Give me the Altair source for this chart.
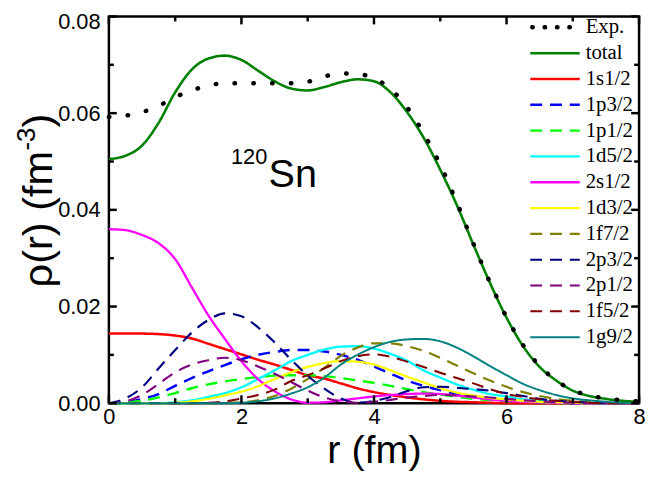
import altair as alt
import pandas as pd

# ---------------- data ----------------
r_grid = [0.0, 0.25, 0.5, 0.75, 1.0, 1.25, 1.5, 1.75, 2.0, 2.25, 2.5, 2.75, 3.0, 3.25, 3.5, 3.75,
          4.0, 4.25, 4.5, 4.75, 5.0, 5.25, 5.5, 5.75, 6.0, 6.25, 6.5, 6.75, 7.0, 7.25, 7.5, 7.75, 8.0]

exp_rho = [0.0592, 0.0595, 0.0602, 0.0615, 0.0633, 0.0647, 0.0657, 0.0662, 0.0662, 0.0662, 0.0662,
           0.0662, 0.0665, 0.0676, 0.0682, 0.0681, 0.0672, 0.0650, 0.0612, 0.0558, 0.0493, 0.0415,
           0.0330, 0.0250, 0.0178, 0.0120, 0.0077, 0.0047, 0.0027, 0.0016, 0.0010, 0.0006, 0.0004]
total = [0.0505, 0.0512, 0.0533, 0.0580, 0.0643, 0.0690, 0.0713, 0.0719, 0.0710, 0.0688, 0.0666,
         0.0651, 0.0647, 0.0654, 0.0664, 0.0670, 0.0666, 0.0643, 0.0602, 0.0549, 0.0483, 0.0410,
         0.0328, 0.0249, 0.0177, 0.0118, 0.0075, 0.0047, 0.0026, 0.0015, 0.0009, 0.0005, 0.0003]
s1_12 = [0.0144, 0.0144, 0.0144, 0.0143, 0.0140, 0.0134, 0.0123, 0.0112, 0.0101, 0.0090, 0.0080,
         0.0069, 0.0058, 0.0051, 0.0041, 0.0031, 0.0023, 0.0017, 0.0012, 0.0008, 0.0005, 0.0003,
         0.0002, 0.0001, 0, 0, 0, 0, 0, 0, 0, 0, 0]
p1_32 = [0, 0.0002, 0.0009, 0.0019, 0.0036, 0.0052, 0.0066, 0.0079, 0.0091, 0.0100, 0.0106,
         0.0110, 0.0110, 0.0107, 0.0100, 0.0090, 0.0076, 0.0061, 0.0047, 0.0036, 0.0027, 0.0019,
         0.0013, 0.0009, 0.0006, 0.0004, 0.0002, 0.0001, 0, 0, 0, 0, 0]
p1_12 = [0, 0.0001, 0.0005, 0.0012, 0.0021, 0.0031, 0.0039, 0.0045, 0.0050, 0.0054, 0.0057,
         0.0058, 0.0058, 0.0056, 0.0052, 0.0047, 0.0042, 0.0036, 0.0029, 0.0023, 0.0018, 0.0013,
         0.0009, 0.0007, 0.0004, 0.0003, 0.0002, 0.0001, 0, 0, 0, 0, 0]
d1_52 = [0, 0, 0, 0, 0.0002, 0.0006, 0.0013, 0.0021, 0.0033, 0.0050, 0.0068, 0.0087, 0.0100,
         0.0111, 0.0117, 0.0118, 0.0113, 0.0102, 0.0088, 0.0068, 0.0053, 0.0039, 0.0028, 0.0019,
         0.0014, 0.0008, 0.0005, 0.0003, 0.0001, 0, 0, 0, 0]
s2_12 = [0.0360, 0.0358, 0.0348, 0.0331, 0.0298, 0.0240, 0.0182, 0.0133, 0.0087, 0.0050, 0.0025,
         0.0008, 0.0001, 0.0002, 0.0006, 0.0010, 0.0014, 0.0017, 0.0019, 0.0020, 0.0019, 0.0016,
         0.0012, 0.0008, 0.0005, 0.0003, 0.0002, 0.0001, 0, 0, 0, 0, 0]
d1_32 = [0, 0, 0, 0, 0.0001, 0.0004, 0.0009, 0.0016, 0.0024, 0.0035, 0.0050, 0.0064, 0.0075,
         0.0083, 0.0087, 0.0086, 0.0080, 0.0068, 0.0055, 0.0043, 0.0031, 0.0022, 0.0016, 0.0011,
         0.0008, 0.0005, 0.0003, 0.0002, 0.0001, 0, 0, 0, 0]
f1_72 = [0, 0, 0, 0, 0, 0, 0, 0.0001, 0.0002, 0.0006, 0.0015, 0.0030, 0.0050, 0.0073, 0.0098,
         0.0115, 0.0124, 0.0124, 0.0118, 0.0108, 0.0094, 0.0078, 0.0062, 0.0047, 0.0034, 0.0023,
         0.0015, 0.0009, 0.0005, 0.0003, 0.0001, 0, 0]
p2_32 = [0, 0.0010, 0.0033, 0.0072, 0.0110, 0.0146, 0.0172, 0.0186, 0.0180, 0.0157, 0.0126,
         0.0090, 0.0057, 0.0030, 0.0010, 0.0001, 0.0005, 0.0013, 0.0025, 0.0033, 0.0034, 0.0032,
         0.0029, 0.0026, 0.0021, 0.0015, 0.0009, 0.0005, 0.0003, 0.0001, 0, 0, 0]
p2_12 = [0, 0.0004, 0.0017, 0.0040, 0.0064, 0.0080, 0.0089, 0.0094, 0.0089, 0.0076, 0.0061,
         0.0044, 0.0026, 0.0012, 0.0004, 0.0001, 0.0003, 0.0007, 0.0012, 0.0015, 0.0017, 0.0016,
         0.0014, 0.0012, 0.0009, 0.0006, 0.0004, 0.0002, 0.0001, 0, 0, 0, 0]
f1_52 = [0, 0, 0, 0, 0, 0, 0.0001, 0.0004, 0.0010, 0.0017, 0.0028, 0.0046, 0.0058, 0.0072,
         0.0087, 0.0097, 0.0101, 0.0096, 0.0086, 0.0075, 0.0063, 0.0052, 0.0041, 0.0029, 0.0019,
         0.0013, 0.0008, 0.0005, 0.0003, 0.0001, 0, 0, 0]
g1_92 = [0, 0, 0, 0, 0, 0, 0, 0, 0.0001, 0.0004, 0.0010, 0.0020, 0.0033, 0.0053, 0.0080, 0.0100,
         0.0116, 0.0127, 0.0132, 0.0133, 0.0128, 0.0115, 0.0097, 0.0077, 0.0058, 0.0040, 0.0027,
         0.0017, 0.0010, 0.0006, 0.0003, 0.0001, 0]

series_names = ["Exp.", "total", "1s1/2", "1p3/2", "1p1/2", "1d5/2", "2s1/2", "1d3/2",
                "1f7/2", "2p3/2", "2p1/2", "1f5/2", "1g9/2"]
series_values = [exp_rho, total, s1_12, p1_32, p1_12, d1_52, s2_12, d1_32,
                 f1_72, p2_32, p2_12, f1_52, g1_92]
series_colors = ["#000000", "#008000", "#FF0000", "#0000FF", "#00FF00", "#00FFFF", "#FF00FF",
                 "#FFFF00", "#808000", "#000080", "#800080", "#800000", "#008080"]
series_dashed = [False, False, False, True, True, False, False, False, True, True, True, True, False]

x_major = [0, 2, 4, 6, 8]
x_minor = [1, 3, 5, 7]
y_major = [0.0, 0.02, 0.04, 0.06, 0.08]
y_minor = [0.01, 0.03, 0.05, 0.07]

annot_text = ["120", "Sn"]
annot_r = [2.39, 2.41]
annot_rho = [0.0495, 0.0448]

ytitle_parts = ["ρ(r) (fm", "-3", ")"]

# ---------------- layout / style ----------------
W, H = 536, 391
SANS = "Liberation Sans"
SERIF = "Liberation Serif"
DASH = [12, 8]
MAJ, MIN = 8, 5
TW = 2.5

rows = []
for name, vals in zip(series_names, series_values):
    for rv, v in zip(r_grid, vals):
        rows.append({"r": rv, "rho": v, "series": name})
df = pd.DataFrame(rows)
df_exp = df[df.series == "Exp."]
df_lines = df[df.series != "Exp."]

xs = alt.Scale(domain=[0, 8], nice=False, zero=False)
ys = alt.Scale(domain=[0, 0.08], nice=False, zero=False)

line_names = series_names[1:]
color_scale = alt.Scale(domain=line_names, range=series_colors[1:])
dash_scale = alt.Scale(domain=line_names,
                       range=[DASH if d else [1, 0] for d in series_dashed[1:]])
width_scale = alt.Scale(domain=line_names, range=[2.6] + [2.0] * (len(line_names) - 1))

x_axis_main = alt.Axis(values=x_major, format="d", tickSize=0, domain=False, grid=False,
                       labelFont=SANS, labelFontSize=22, labelPadding=4, labelColor="black",
                       labelFlush=False, labelOverlap=False,
                       title="r (fm)", titleFont=SANS, titleFontSize=40, titleFontWeight="normal",
                       titleColor="black", titlePadding=3)
y_axis_main = alt.Axis(values=y_major, format=".2f", tickSize=0, domain=False, grid=False,
                       labelFont=SANS, labelFontSize=22, labelPadding=9, labelColor="black",
                       labelOverlap=False, title=None,
                       labelOffset={"condition": {"test": "datum.value >= 0.079", "value": 5},
                                    "value": 0})

lines = alt.Chart(df_lines).mark_line(interpolate="monotone").encode(
    x=alt.X("r:Q", scale=xs, axis=x_axis_main),
    y=alt.Y("rho:Q", scale=ys, axis=y_axis_main),
    color=alt.Color("series:N", scale=color_scale, legend=None),
    strokeDash=alt.StrokeDash("series:N", scale=dash_scale, legend=None),
    strokeWidth=alt.StrokeWidth("series:N", scale=width_scale, legend=None),
)

exp_line = alt.Chart(df_exp).mark_line(
    interpolate="monotone", color="black", strokeWidth=4.5, strokeDash=[0.5, 18.5],
    strokeCap="round").encode(
    x=alt.X("r:Q", scale=xs, axis=None),
    y=alt.Y("rho:Q", scale=ys, axis=None),
)


# inward ticks on all four sides (positions from the scales)
def xticks(vals, y1, y2):
    return alt.Chart(pd.DataFrame({"v": vals})).mark_rule(color="black", strokeWidth=TW).encode(
        x=alt.X("v:Q", scale=xs, axis=None), y=alt.value(y1), y2=alt.value(y2))


def yticks(vals, x1, x2):
    return alt.Chart(pd.DataFrame({"v": vals})).mark_rule(color="black", strokeWidth=TW).encode(
        y=alt.Y("v:Q", scale=ys, axis=None), x=alt.value(x1), x2=alt.value(x2))


ticks = [
    xticks(x_major, H, H - MAJ), xticks(x_minor, H, H - MIN),
    xticks(x_major, 0, MAJ), xticks(x_minor, 0, MIN),
    yticks(y_major, 0, MAJ), yticks(y_minor, 0, MIN),
    yticks(y_major, W, W - MAJ), yticks(y_minor, W, W - MIN),
]

# annotation 120Sn
df_annot = pd.DataFrame({"t": annot_text, "r": annot_r, "rho": annot_rho})
sup = alt.Chart(df_annot[df_annot.t == "120"]).mark_text(
    font=SANS, fontSize=22, align="right", baseline="alphabetic", color="black").encode(
    x=alt.X("r:Q", scale=xs, axis=None), y=alt.Y("rho:Q", scale=ys, axis=None), text="t:N")
main_t = alt.Chart(df_annot[df_annot.t == "Sn"]).mark_text(
    font=SANS, fontSize=40, align="left", baseline="alphabetic", color="black").encode(
    x=alt.X("r:Q", scale=xs, axis=None), y=alt.Y("rho:Q", scale=ys, axis=None), text="t:N")

# custom legend (inside top-right)
leg_df = pd.DataFrame({"series": series_names, "idx": list(range(len(series_names)))})
leg_y = alt.Y("idx:Q", scale=alt.Scale(domain=[0, 12], range=[11, 324.2]), axis=None)
leg_lines = alt.Chart(leg_df[leg_df.series != "Exp."]).mark_rule().encode(
    x=alt.value(426), x2=alt.value(476), y=leg_y,
    color=alt.Color("series:N", scale=color_scale, legend=None),
    strokeDash=alt.StrokeDash("series:N", scale=dash_scale, legend=None),
    strokeWidth=alt.StrokeWidth("series:N", scale=width_scale, legend=None),
)
leg_exp = alt.Chart(leg_df[leg_df.series == "Exp."]).mark_rule(
    color="black", strokeWidth=4.5, strokeDash=[0.5, 12], strokeCap="round").encode(
    x=alt.value(428), x2=alt.value(478), y=leg_y)
leg_text = alt.Chart(leg_df).mark_text(
    font=SERIF, fontSize=21, align="left", baseline="middle", color="black").encode(
    x=alt.value(482), y=leg_y, text="series:N")

# y-axis title with superscript (rotated text pieces)
F1, F2 = 42, 26
w1 = 3.298 * F1
w2 = 0.889 * F2
y0 = 274
xb = -58
yt1 = alt.Chart(leg_df.head(1)).mark_text(
    text=ytitle_parts[0], font=SANS, fontSize=F1, angle=270, align="left",
    baseline="alphabetic", color="black").encode(x=alt.value(xb), y=alt.value(y0))
yt2 = alt.Chart(leg_df.head(1)).mark_text(
    text=ytitle_parts[1], font=SANS, fontSize=F2, angle=270, align="left",
    baseline="alphabetic", color="black").encode(x=alt.value(xb - 17), y=alt.value(y0 - w1))
yt3 = alt.Chart(leg_df.head(1)).mark_text(
    text=ytitle_parts[2], font=SANS, fontSize=F1, angle=270, align="left",
    baseline="alphabetic", color="black").encode(x=alt.value(xb), y=alt.value(y0 - w1 - w2))

chart = alt.layer(
    lines, exp_line, *ticks, sup, main_t, leg_lines, leg_exp, leg_text, yt1, yt2, yt3
).resolve_scale(
    y="independent", color="independent", strokeDash="independent", strokeWidth="independent"
).resolve_axis(
    x="independent", y="independent"
).properties(
    width=W, height=H,
    autosize=alt.AutoSizeParams(type="none"),
    padding={"left": 102, "top": 6, "right": 7, "bottom": 70},
).configure_view(
    stroke="black", strokeWidth=2.5
)

chart.save("out.html", embed_options={"renderer": "svg", "actions": False})
